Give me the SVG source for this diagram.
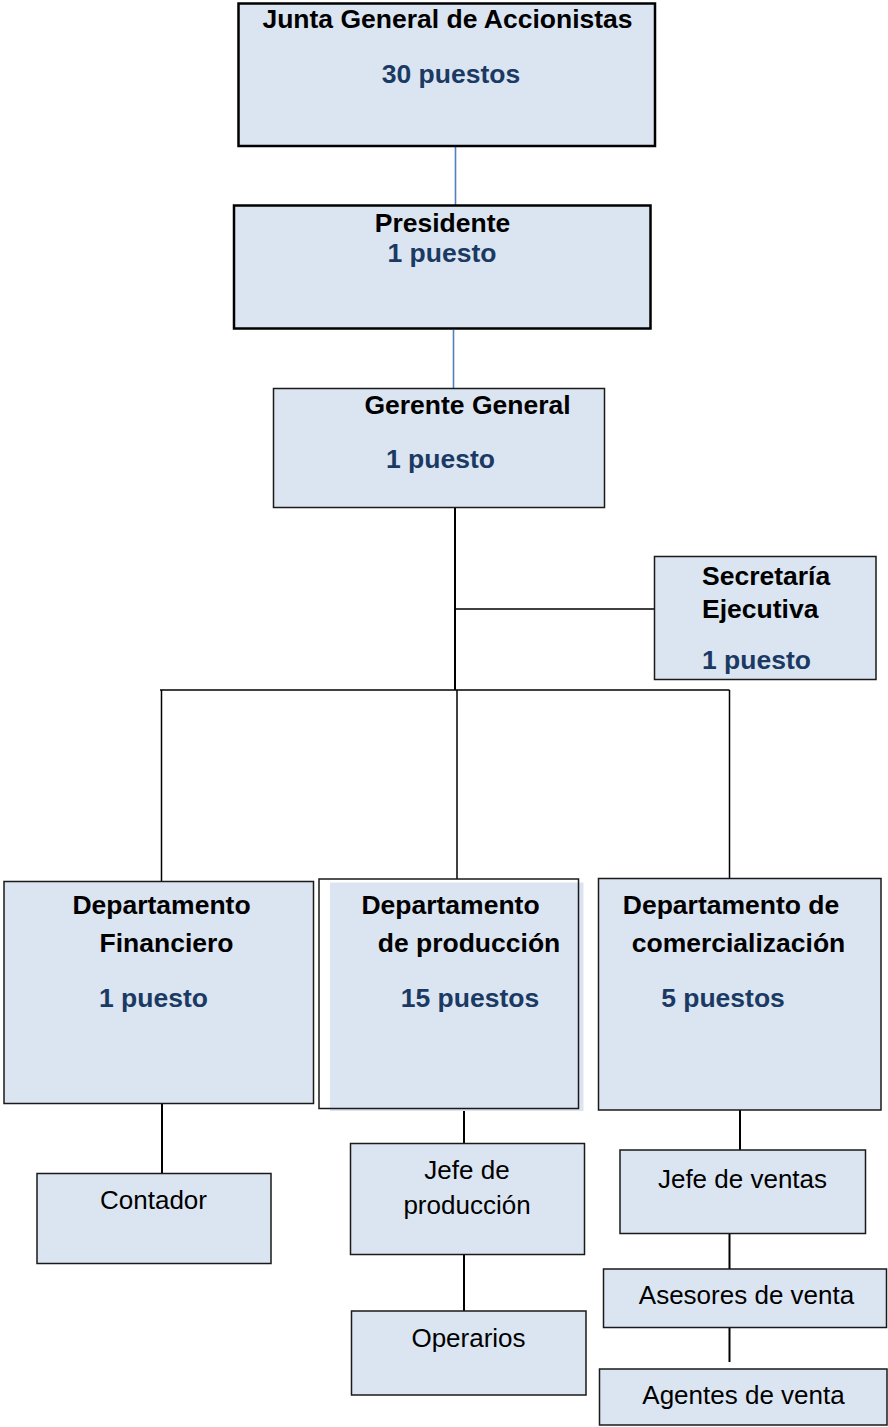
<svg xmlns="http://www.w3.org/2000/svg" width="888" height="1427" viewBox="0 0 888 1427">
<style>
.box{fill:#dbe5f1;stroke:#1a1a1a;stroke-width:1.5}
.bigbox{fill:#dbe5f1;stroke:#000;stroke-width:2.5}
.t{font-family:"Liberation Sans",Arial,sans-serif;font-size:26.5px;font-weight:bold;fill:#000;text-anchor:middle}
.n{font-family:"Liberation Sans",Arial,sans-serif;font-size:26.5px;font-weight:bold;fill:#1b3a63;text-anchor:middle}
.r{font-family:"Liberation Sans",Arial,sans-serif;font-size:26px;fill:#000;text-anchor:middle}
.l{text-anchor:start}
.blue{stroke:#4f81bd;stroke-width:1.6;fill:none}
.blk{stroke:#000;stroke-width:1.5;fill:none}
.blk2{stroke:#000;stroke-width:2;fill:none}
</style>
<rect width="888" height="1427" fill="#fff"/>
<g id="connectors">
<line class="blue" x1="455.5" y1="146" x2="455.5" y2="205"/>
<line class="blue" x1="453.5" y1="330" x2="453.5" y2="389"/>
<line class="blk2" x1="455" y1="508" x2="455" y2="690"/>
<line class="blk" x1="455" y1="609" x2="654" y2="609"/>
<line class="blk" x1="160" y1="690" x2="729.5" y2="690"/>
<line class="blk" x1="161.5" y1="690" x2="161.5" y2="881"/>
<line class="blk" x1="457" y1="690" x2="457" y2="879"/>
<line class="blk" x1="729.5" y1="690" x2="729.5" y2="878"/>
<line class="blk2" x1="162" y1="1104" x2="162" y2="1173"/>
<line class="blk2" x1="464" y1="1111" x2="464" y2="1143"/>
<line class="blk2" x1="464" y1="1255" x2="464" y2="1317"/>
<line class="blk2" x1="740" y1="1110" x2="740" y2="1150"/>
<line class="blk2" x1="729.5" y1="1233" x2="729.5" y2="1269"/>
<line class="blk2" x1="729.5" y1="1328" x2="729.5" y2="1362"/>
</g>
<g id="junta">
<rect class="bigbox" x="238.5" y="3.5" width="416.5" height="142.5"/>
<text class="t" x="447.5" y="28">Junta General de Accionistas</text>
<text class="n" x="451" y="83">30 puestos</text>
</g>
<g id="presidente">
<rect class="bigbox" x="234" y="205.5" width="416.5" height="123"/>
<text class="t" x="442.5" y="231.5">Presidente</text>
<text class="n" x="442" y="261.5">1 puesto</text>
</g>
<g id="gerente">
<rect class="box" x="273.5" y="388.5" width="331" height="119"/>
<text class="t" x="467.5" y="413.5">Gerente General</text>
<text class="n" x="440.5" y="467.5">1 puesto</text>
</g>
<g id="secretaria">
<rect class="box" x="654.5" y="556.5" width="221.5" height="123"/>
<text class="t l" x="702" y="585">Secretaría</text>
<text class="t l" x="702" y="618">Ejecutiva</text>
<text class="n l" x="702" y="669">1 puesto</text>
</g>
<g id="dep-financiero">
<rect class="box" x="4" y="881.5" width="309.5" height="222"/>
<text class="t" x="161.5" y="913.5">Departamento</text>
<text class="t" x="166.5" y="951.5">Financiero</text>
<text class="n" x="153.5" y="1006.5">1 puesto</text>
</g>
<g id="dep-produccion">
<rect x="330" y="882.5" width="253.5" height="228.5" fill="#dbe5f1"/>
<rect x="319" y="879" width="259.5" height="229.5" fill="none" stroke="#1a1a1a" stroke-width="1.5"/>
<text class="t" x="450.5" y="913.5">Departamento</text>
<text class="t" x="469" y="951.5">de producción</text>
<text class="n" x="470" y="1006.5">15 puestos</text>
</g>
<g id="dep-comercializacion">
<rect class="box" x="598.5" y="878.5" width="282.5" height="231.5"/>
<text class="t" x="731" y="913.5">Departamento de</text>
<text class="t" x="738.5" y="951.5">comercialización</text>
<text class="n" x="723" y="1006.5">5 puestos</text>
</g>
<g id="contador">
<rect class="box" x="37" y="1173.5" width="234" height="90"/>
<text class="r" x="153.5" y="1208.5">Contador</text>
</g>
<g id="jefe-produccion">
<rect class="box" x="350.5" y="1143.5" width="234" height="111"/>
<text class="r" x="467" y="1179">Jefe de</text>
<text class="r" x="467" y="1213.5">producción</text>
</g>
<g id="operarios">
<rect class="box" x="351.5" y="1311" width="234.5" height="84"/>
<text class="r" x="468.5" y="1347">Operarios</text>
</g>
<g id="jefe-ventas">
<rect class="box" x="620" y="1150" width="245.5" height="83.5"/>
<text class="r" x="742.5" y="1187.5">Jefe de ventas</text>
</g>
<g id="asesores">
<rect class="box" x="603.5" y="1269" width="283" height="58.5"/>
<text class="r" x="746.5" y="1304">Asesores de venta</text>
</g>
<g id="agentes">
<rect class="box" x="599.5" y="1369" width="287.5" height="56"/>
<text class="r" x="743.5" y="1403.5">Agentes de venta</text>
</g>
</svg>
